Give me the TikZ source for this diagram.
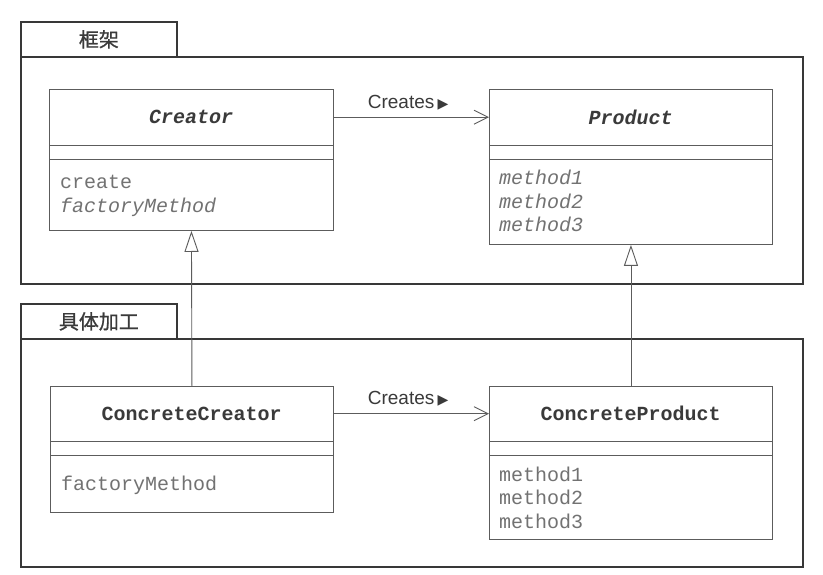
\documentclass[tikz,border=0pt]{standalone}
\usepackage{fontspec}
\setmainfont{Liberation Sans}
\setmonofont{Liberation Mono}
\newfontfamily\cjk[FakeBold=0.8]{Noto Sans CJK SC}
\newfontfamily\dejavu{DejaVu Sans}
\usetikzlibrary{arrows.meta}
\definecolor{pkgcol}{HTML}{383838}
\definecolor{linecol}{HTML}{5C5C5C}
\definecolor{namecol}{HTML}{3A3A3A}
\definecolor{methcol}{HTML}{727272}
\tikzset{
  pkgbox/.style={draw=pkgcol, line width=1.8pt, fill=white, inner sep=0pt, anchor=north west},
  pkgtab/.style={pkgbox, font=\cjk\fontsize{20}{24}\selectfont, text=namecol},
  clsbox/.style={draw=linecol, line width=0.9pt, fill=white, inner sep=0pt, anchor=north west},
  clsname/.style={inner sep=0pt, anchor=north west, font=\fontsize{20}{24}\selectfont\ttfamily\bfseries, text=namecol},
  meth/.style={anchor=base west, inner sep=0pt, font=\fontsize{20}{24}\selectfont\ttfamily, text=methcol},
  divider/.style={draw=linecol, line width=0.9pt},
  creates/.style={draw=linecol, line width=0.9pt, -{Straight Barb[length=14pt, width=14pt, line width=0.9pt]}},
  createslabel/.style={font=\fontsize{19}{23}\selectfont, text=namecol, inner sep=0pt, anchor=base},
  gen/.style={draw=linecol, line width=0.9pt, -{Triangle[open, length=21pt, width=14pt, line width=0.9pt, fill=white]}},
}
\begin{document}
\begin{tikzpicture}[x=1pt, y=-1pt]
\useasboundingbox[fill=white] (0,0) rectangle (823,575);

% ---------- package 1 ----------
\node[pkgbox, minimum width=782pt, minimum height=227pt] (pkgA) at (20,56) {};
\node[pkgtab, minimum width=156pt, minimum height=35pt] (tabA) at (20,21) {框架};

% ---------- package 2 ----------
\node[pkgbox, minimum width=782pt, minimum height=228pt] (pkgB) at (20,338) {};
\node[pkgtab, minimum width=156pt, minimum height=35pt] (tabB) at (20,303) {具体加工};

% ---------- Creator ----------
\node[clsbox, minimum width=284pt, minimum height=141pt] (creator) at (49,89) {};
\node[clsname, minimum width=284pt, minimum height=56pt] (creatorname) at (49,89) {\itshape Creator};
\draw[divider] (49,145) -- (333,145);
\draw[divider] (49,159) -- (333,159);
\node[meth] (m1) at (60,189) {create};
\node[meth] (m2) at (60,213) {\itshape factoryMethod};

% ---------- Product ----------
\node[clsbox, minimum width=283pt, minimum height=155pt] (product) at (489,89) {};
\node[clsname, minimum width=283pt, minimum height=56pt] (productname) at (489,89) {\itshape Product};
\draw[divider] (489,145) -- (772,145);
\draw[divider] (489,159) -- (772,159);
\node[meth] (p1) at (499,185) {\itshape method1};
\node[meth] (p2) at (499,208.5) {\itshape method2};
\node[meth] (p3) at (499,232) {\itshape method3};

% ---------- ConcreteCreator ----------
\node[clsbox, minimum width=283pt, minimum height=126pt] (ccreator) at (50,386) {};
\node[clsname, minimum width=283pt, minimum height=55pt] (ccreatorname) at (50,386) {ConcreteCreator};
\draw[divider] (50,441) -- (333,441);
\draw[divider] (50,455) -- (333,455);
\node[meth] (c1) at (61,490) {factoryMethod};

% ---------- ConcreteProduct ----------
\node[clsbox, minimum width=283pt, minimum height=153pt] (cproduct) at (489,386) {};
\node[clsname, minimum width=283pt, minimum height=55pt] (cproductname) at (489,386) {ConcreteProduct};
\draw[divider] (489,441) -- (772,441);
\draw[divider] (489,455) -- (772,455);
\node[meth] (q1) at (499,481) {method1};
\node[meth] (q2) at (499,504.5) {method2};
\node[meth] (q3) at (499,528) {method3};

% ---------- connectors ----------
\draw[creates] (creatorname.east) -- (productname.west)
  node[createslabel, pos=0.48, yshift=9pt] {Creates\,{\dejavu\fontsize{14}{16}\selectfont ▶}};
\draw[creates] (ccreatorname.east) -- (cproductname.west)
  node[createslabel, pos=0.48, yshift=9pt] {Creates\,{\dejavu\fontsize{14}{16}\selectfont ▶}};
\draw[gen] (ccreator.north) -- (creator.south);
\draw[gen] (cproduct.north) -- (product.south);
\end{tikzpicture}
\end{document}
